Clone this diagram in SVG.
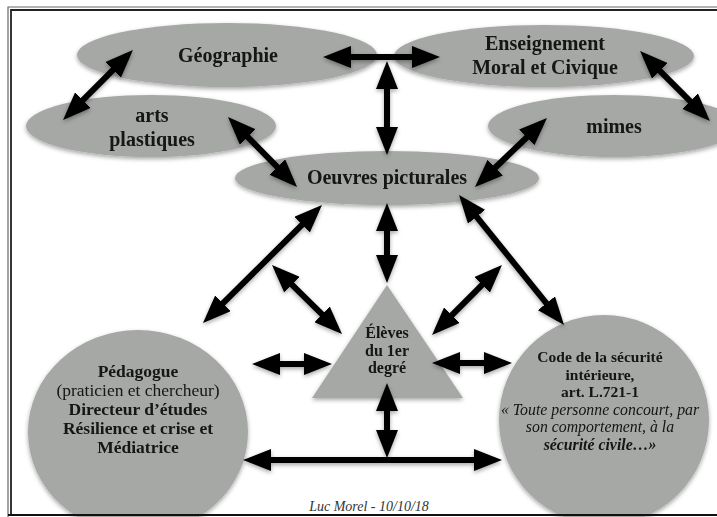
<svg xmlns="http://www.w3.org/2000/svg" width="717" height="517" viewBox="0 0 717 517">
<style>
.shape{fill:#a6a8a5}
.t{font-family:"Liberation Serif","Times New Roman",serif;fill:#141414;text-anchor:middle}
.b{font-weight:bold}
.i{font-style:italic}
.big{font-size:20px}
.arr line{stroke:#000;stroke-width:6;marker-start:url(#head);marker-end:url(#head)}
</style>
<defs>
<filter id="sh" x="-10%" y="-10%" width="120%" height="130%">
<feDropShadow dx="0" dy="2" stdDeviation="2" flood-color="#000" flood-opacity="0.35"/>
</filter>
<marker id="head" markerUnits="userSpaceOnUse" markerWidth="28" markerHeight="22" viewBox="0 0 28 22" refX="20" refY="11" orient="auto-start-reverse">
<path d="M0,0 L28,11 L0,22 Z" fill="#000"/>
</marker>
</defs>
<rect width="717" height="517" fill="#fff"/>

<g id="geographie" filter="url(#sh)">
<ellipse class="shape" cx="227" cy="55" rx="150" ry="32"/>
<text class="t b big" x="228" y="62">Géographie</text>
</g>
<g id="enseignement" filter="url(#sh)">
<ellipse class="shape" cx="544" cy="56" rx="150" ry="31"/>
<text class="t b big" x="545" y="50">Enseignement</text>
<text class="t b big" x="545" y="74">Moral et Civique</text>
</g>
<g id="arts" filter="url(#sh)">
<ellipse class="shape" cx="151" cy="126" rx="125" ry="31"/>
<text class="t b big" x="152" y="122">arts</text>
<text class="t b big" x="152" y="146">plastiques</text>
</g>
<g id="mimes" filter="url(#sh)">
<ellipse class="shape" cx="614" cy="126" rx="126" ry="31"/>
<text class="t b big" x="614" y="133">mimes</text>
</g>
<g id="oeuvres" filter="url(#sh)">
<ellipse class="shape" cx="387" cy="178" rx="152" ry="27"/>
<text class="t b big" x="387" y="184">Oeuvres picturales</text>
</g>
<g id="eleves" filter="url(#sh)">
<polygon class="shape" points="387,285 312,398 463,398"/>
<text class="t b" font-size="16" x="387" y="338">Élèves</text>
<text class="t b" font-size="16" x="387" y="356">du 1er</text>
<text class="t b" font-size="16" x="387" y="373">degré</text>
</g>
<g id="pedagogue" filter="url(#sh)">
<ellipse class="shape" cx="138" cy="432" rx="110" ry="102"/>
<text class="t b" font-size="17.5" x="138" y="377">Pédagogue</text>
<text class="t" font-size="17.5" x="138" y="396">(praticien et chercheur)</text>
<text class="t b" font-size="17.5" x="138" y="415">Directeur d’études</text>
<text class="t b" font-size="17.5" x="138" y="434">Résilience et crise et</text>
<text class="t b" font-size="17.5" x="138" y="453">Médiatrice</text>
</g>
<g id="code" filter="url(#sh)">
<ellipse class="shape" cx="604" cy="420" rx="105" ry="105"/>
<text class="t b" font-size="15.5" x="600" y="362">Code de la sécurité</text>
<text class="t b" font-size="15.5" x="600" y="379.5">intérieure,</text>
<text class="t b" font-size="15.5" x="600" y="397">art. L.721-1</text>
<text class="t i" font-size="15.8" x="600" y="414.5">« Toute personne concourt, par</text>
<text class="t i" font-size="15.8" x="600" y="432">son comportement, à la</text>
<text class="t b i" font-size="15.8" x="600" y="449.5">sécurité civile…»</text>
</g>

<g id="connectors" class="arr" filter="url(#sh)">
<line x1="331" y1="57" x2="432" y2="57"/>
<line x1="387" y1="69" x2="387" y2="147"/>
<line x1="127.3" y1="55.7" x2="68.7" y2="114.3"/>
<line x1="233.6" y1="122.7" x2="291.4" y2="181.3"/>
<line x1="645.7" y1="56.7" x2="704.3" y2="115.3"/>
<line x1="541.2" y1="123.5" x2="480.8" y2="181.5"/>
<line x1="316.3" y1="210.6" x2="208.7" y2="317.4"/>
<line x1="277.7" y1="270.6" x2="336.3" y2="328.4"/>
<line x1="387" y1="211" x2="387" y2="275"/>
<line x1="464" y1="201.2" x2="559" y2="318.8"/>
<line x1="496.3" y1="270.7" x2="437.7" y2="329.3"/>
<line x1="260" y1="364" x2="324" y2="364"/>
<line x1="440" y1="363" x2="504" y2="363"/>
<line x1="387" y1="391" x2="387" y2="450"/>
<line x1="251" y1="460" x2="494" y2="460"/>
</g>

<text class="t i" font-size="14" x="369" y="511" style="fill:#333">Luc Morel - 10/10/18</text>

<g id="frame" fill="none">
<path d="M8,517 V7 H717" stroke="#666" stroke-width="1.2"/>
<path d="M11,515 V10 H717" stroke="#222" stroke-width="1.8"/>
<path d="M8,515 H717" stroke="#111" stroke-width="2"/>
</g>
</svg>
